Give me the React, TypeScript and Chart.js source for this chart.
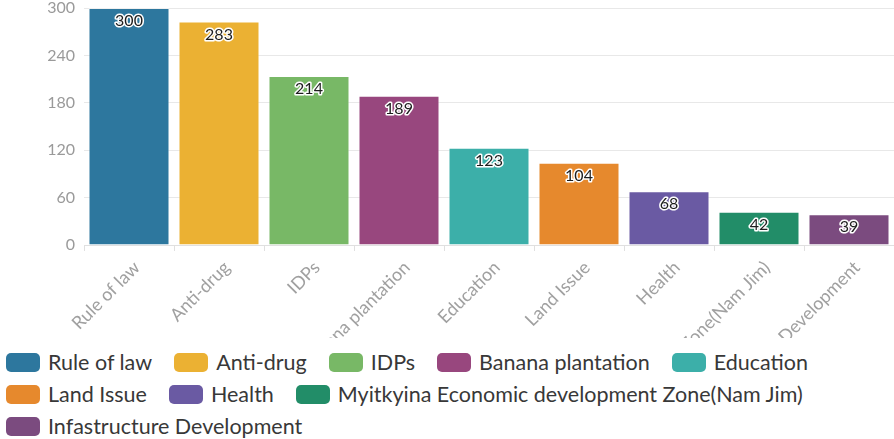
import React, { useEffect, useRef } from "react";
import { Chart, registerables } from "chart.js";
Chart.register(...registerables);

const categories = [
  "Rule of law",
  "Anti-drug",
  "IDPs",
  "Banana plantation",
  "Education",
  "Land Issue",
  "Health",
  "Myitkyina Economic development Zone(Nam Jim)",
  "Infastructure Development",
];
const values = [300, 283, 214, 189, 123, 104, 68, 42, 39];
const colors = [
  "#2d779e",
  "#ebb133",
  "#78b866",
  "#98477e",
  "#3cafa9",
  "#e6892d",
  "#6a5aa3",
  "#228d68",
  "#7b4b7f",
];
const yTicks = [0, 60, 120, 180, 240, 300];

const FONT = "Lato, 'Open Sans', sans-serif";

const valueLabels = {
  id: "valueLabels",
  afterDatasetsDraw(chart: any) {
    const ctx = chart.ctx;
    const meta = chart.getDatasetMeta(0);
    ctx.save();
    ctx.font = `16px ${FONT}`;
    ctx.textAlign = "center";
    ctx.textBaseline = "middle";
    ctx.lineJoin = "round";
    meta.data.forEach((bar: any, i: number) => {
      const v = String(chart.data.datasets[0].data[i]);
      const x = bar.x;
      const y = bar.y + 13;
      ctx.strokeStyle = "#ffffff";
      ctx.lineWidth = 3;
      ctx.strokeText(v, x, y);
      ctx.fillStyle = "#1e1e1e";
      ctx.fillText(v, x, y);
    });
    ctx.restore();
  },
};

export default function App() {
  const ref = useRef<HTMLCanvasElement | null>(null);
  useEffect(() => {
    document.body.style.margin = "0";
    if (!ref.current) return;
    const chart = new Chart(ref.current, {
      type: "bar",
      data: {
        labels: categories,
        datasets: [
          {
            data: values,
            backgroundColor: colors,
            borderColor: "rgba(255,255,255,0.35)",
            borderWidth: 1,
            categoryPercentage: 0.9,
            barPercentage: 1,
          },
        ],
      },
      options: {
        animation: false,
        responsive: true,
        maintainAspectRatio: false,
        layout: { padding: { top: 28, right: 0, left: 0, bottom: 0 } },
        plugins: { legend: { display: false }, tooltip: { enabled: false } },
        scales: {
          x: {
            afterFit(scale: any) {
              scale.height = 195;
            },
            grid: {
              display: true,
              drawOnChartArea: false,
              tickLength: 6,
              color: "#e0e0e0",
            },
            border: { color: "#e0e0e0" },
            ticks: {
              color: "#a0a0a0",
              font: { size: 18, family: FONT },
              minRotation: 45,
              maxRotation: 45,
              autoSkip: false,
              padding: 6,
              labelOffset: 8,
            },
          },
          y: {
            min: 0,
            max: 300,
            afterFit(scale: any) {
              scale.width = 84;
            },
            afterBuildTicks(scale: any) {
              scale.ticks = yTicks.map((v) => ({ value: v }));
            },
            grid: { color: "#e8e8e8", drawTicks: false },
            border: { display: false },
            ticks: {
              color: "#9a9a9a",
              font: { size: 16, family: FONT },
              padding: 9,
            },
          },
        },
      },
      plugins: [valueLabels],
    });
    return () => chart.destroy();
  }, []);

  return (
    <div
      style={{
        position: "relative",
        width: 894,
        height: 439,
        overflow: "hidden",
        background: "#fff",
      }}
    >
      <div style={{ position: "absolute", left: 0, top: -20, width: 894, height: 460 }}>
        <canvas ref={ref} />
      </div>
      <div
        style={{
          position: "absolute",
          left: 0,
          top: 338,
          width: 894,
          height: 101,
          background: "#fff",
        }}
      >
        <div
          style={{
            position: "absolute",
            left: 6,
            top: 14,
            width: 880,
            display: "flex",
            flexWrap: "wrap",
            columnGap: 22,
            rowGap: 11,
            fontFamily: FONT,
            fontSize: 21.5,
            lineHeight: "21px",
            color: "#383838",
          }}
        >
          {categories.map((c, i) => (
            <div key={c} style={{ display: "flex", alignItems: "center", height: 21 }}>
              <span
                style={{
                  display: "inline-block",
                  width: 34,
                  height: 19,
                  borderRadius: 5,
                  background: colors[i],
                  marginRight: 8,
                }}
              />
              <span>{c}</span>
            </div>
          ))}
        </div>
      </div>
    </div>
  );
}
